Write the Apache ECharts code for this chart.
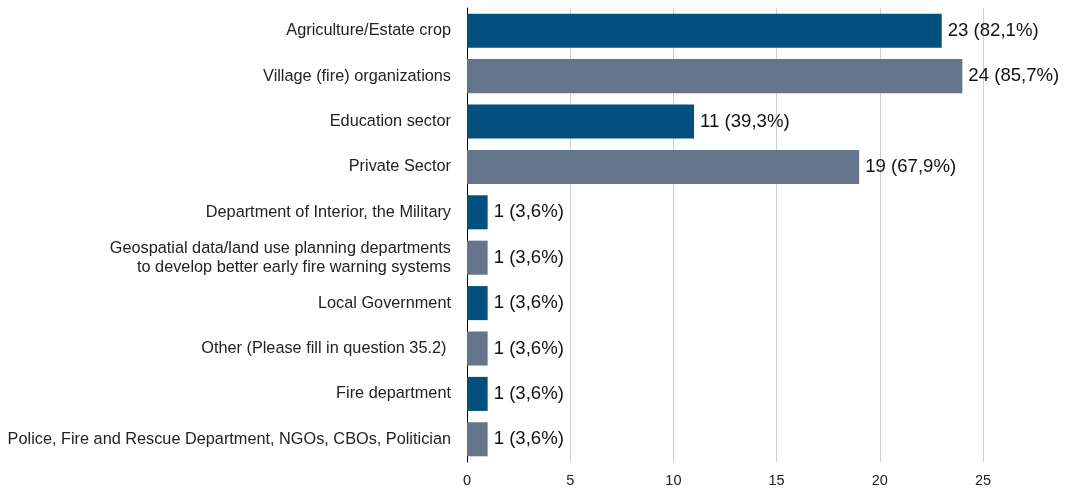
<!DOCTYPE html>
<html>
<head>
<meta charset="utf-8">
<style>
  html, body { margin: 0; padding: 0; background: #ffffff; }
  #chart { width: 1072px; height: 490px; }
</style>
<script src="https://cdn.jsdelivr.net/npm/echarts@6/dist/echarts.min.js"></script>
</head>
<body>
<div id="chart"></div>
<script>
// Survey answers, listed top to bottom
const categories = [
  'Agriculture/Estate crop',
  'Village (fire) organizations',
  'Education sector',
  'Private Sector',
  'Department of Interior, the Military',
  'Geospatial data/land use planning departments\nto develop better early fire warning systems',
  'Local Government',
  'Other (Please fill in question 35.2) ',
  'Fire department',
  'Police, Fire and Rescue Department, NGOs, CBOs, Politician'
];
const counts = [23, 24, 11, 19, 1, 1, 1, 1, 1, 1];
const respondents = 28;
const xTicks = [0, 5, 10, 15, 20, 25];
const barColors = ['#03507f', '#65758c'];

const chart = echarts.init(document.getElementById('chart'));
const font = '"Liberation Sans", Arial, Helvetica, sans-serif';

chart.setOption({
  animation: false,
  textStyle: { fontFamily: font },
  grid: { left: 467, right: 89, top: 8, bottom: 28, containLabel: false },
  xAxis: {
    type: 'value',
    min: xTicks[0],
    max: xTicks[xTicks.length - 1],
    interval: xTicks[1] - xTicks[0],
    axisLine: { show: false },
    axisTick: { show: false },
    axisLabel: { color: '#222', fontSize: 14.5, fontFamily: font, margin: 11 },
    splitLine: { show: true, lineStyle: { color: '#cfcfcf', width: 1 } }
  },
  yAxis: {
    type: 'category',
    data: categories,
    inverse: true,
    axisLine: { show: true, lineStyle: { color: '#000', width: 1 } },
    axisTick: { show: false },
    axisLabel: {
      color: '#222', fontSize: 16.3, fontFamily: font, margin: 16,
      align: 'right', lineHeight: 19
    }
  },
  series: [{
    type: 'bar',
    data: counts.map((v, i) => ({ value: v, itemStyle: { color: barColors[i % 2] } })),
    barWidth: '75%',
    label: {
      show: true,
      position: 'right',
      distance: 6,
      color: '#111',
      fontSize: 18.6,
      fontFamily: font,
      formatter: p => p.value + ' (' + (p.value / respondents * 100).toFixed(1).replace('.', ',') + '%)'
    }
  }]
});
</script>
</body>
</html>
